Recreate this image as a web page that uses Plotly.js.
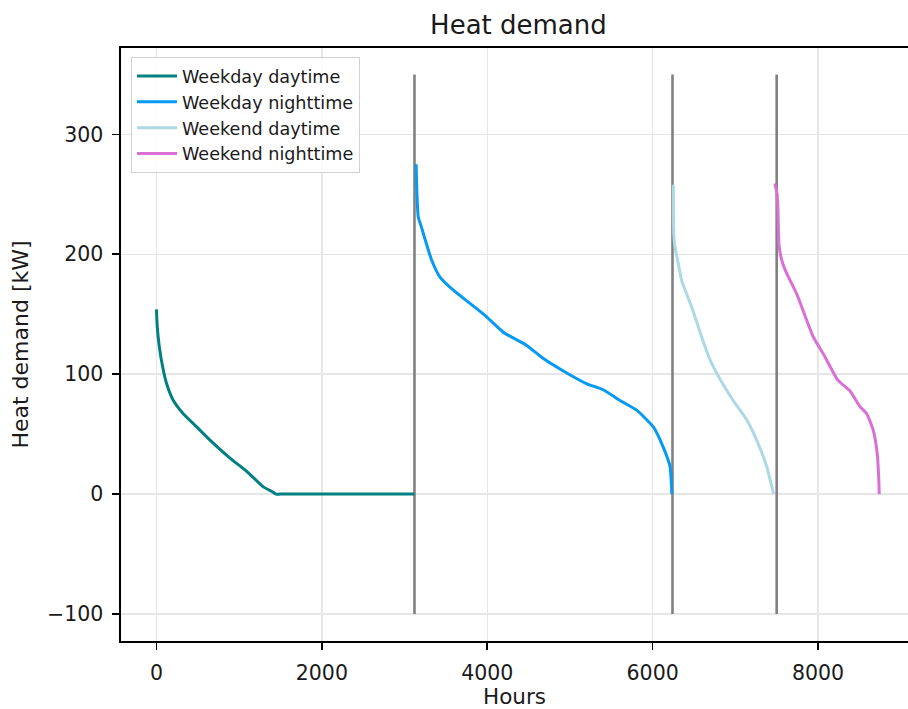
<!DOCTYPE html>
<html>
<head>
<meta charset="utf-8">
<script src="https://cdn.plot.ly/plotly-3.0.1.min.js"></script>
<style>
  html, body { margin: 0; padding: 0; background: #ffffff; overflow: hidden; }
  #chart { width: 908px; height: 709px; }
</style>
</head>
<body>
<div id="chart"></div>
<script>
// ---- data ----
const seriesNames = ["Weekday daytime", "Weekday nighttime", "Weekend daytime", "Weekend nighttime"];

const wdDayHours  = [0, 2, 10, 34, 75, 123, 204, 324, 486, 647, 889, 1091, 1292, 1400, 1445, 1500, 3120];
const wdDayValues = [154, 150, 139, 123, 106, 92, 78, 67, 56, 45, 30, 19, 6, 2, 0, 0, 0];

const wdNightHours  = [3140, 3150, 3166, 3207, 3250, 3328, 3428, 3590, 3791, 3973, 4194, 4477, 4678, 4961, 5203, 5403, 5605, 5807, 6008, 6129, 6210, 6232];
const wdNightValues = [275, 250, 231, 222, 212, 195, 181, 170, 159, 149, 135, 124, 113, 101, 92, 87, 78, 70, 56, 39, 23, 0];

const weDayHours  = [6250, 6255, 6270, 6311, 6351, 6472, 6593, 6694, 6814, 6975, 7137, 7258, 7379, 7462];
const weDayValues = [258, 217, 206, 192, 178, 156, 131, 112, 96, 78, 62, 45, 23, 0];

const weNightHours  = [7478, 7505, 7515, 7528, 7561, 7621, 7742, 7943, 8064, 8240, 8387, 8507, 8589, 8669, 8717, 8735, 8740];
const weNightValues = [259, 250, 238, 208, 195, 184, 167, 131, 117, 95, 86, 73, 67, 53, 33, 12, 0];

const boundaryHours = [3120, 6240, 7500];
const boundaryLow = -100;
const boundaryHigh = 350;

const xTickVals = [0, 2000, 4000, 6000, 8000];
const yTickVals = [-100, 0, 100, 200, 300];

// ---- build traces ----
const vx = [], vy = [];
boundaryHours.forEach(h => { vx.push(h, h, null); vy.push(boundaryLow, boundaryHigh, null); });

const lineW = 3;
const sm = 0.5;
const traces = [
  { x: vx, y: vy, mode: "lines", line: { color: "#808080", width: 2.6 }, showlegend: false, hoverinfo: "skip" },
  { x: wdDayHours, y: wdDayValues, name: seriesNames[0], mode: "lines", line: { color: "#008080", width: lineW, shape: "spline", smoothing: sm } },
  { x: wdNightHours, y: wdNightValues, name: seriesNames[1], mode: "lines", line: { color: "#069AF3", width: lineW, shape: "spline", smoothing: sm } },
  { x: weDayHours, y: weDayValues, name: seriesNames[2], mode: "lines", line: { color: "#ADD8E6", width: lineW, shape: "spline", smoothing: sm } },
  { x: weNightHours, y: weNightValues, name: seriesNames[3], mode: "lines", line: { color: "#DA70D6", width: lineW, shape: "spline", smoothing: sm } }
];

const font = "DejaVu Sans, Liberation Sans, sans-serif";
const txt = "#1a1a1a";
const layout = {
  width: 908, height: 709,
  margin: { l: 121, r: 0, t: 48, b: 68, pad: 0 },
  paper_bgcolor: "#ffffff", plot_bgcolor: "#ffffff",
  font: { family: font, color: txt, size: 20.5 },
  title: {
    text: "Heat demand",
    font: { family: font, size: 26, color: txt },
    xref: "paper", x: 0.505, xanchor: "center",
    yref: "container", y: 1 - 25 / 709, yanchor: "middle"
  },
  xaxis: {
    range: [-429, 9088],
    tickvals: xTickVals,
    ticks: "outside", ticklen: 7, tickwidth: 1.6, tickcolor: "#000",
    ticklabelstandoff: 6,
    showline: true, linecolor: "#000", linewidth: 1.6, mirror: true,
    showgrid: true, gridcolor: "#e6e6e6", gridwidth: 1.5,
    zeroline: false,
    tickfont: { family: font, size: 20.5, color: txt },
    title: { text: "Hours", font: { family: font, size: 21.5, color: txt }, standoff: 7 }
  },
  yaxis: {
    range: [-122.5, 372],
    tickvals: yTickVals,
    ticks: "outside", ticklen: 7, tickwidth: 1.6, tickcolor: "#000",
    ticklabelstandoff: 5,
    showline: true, linecolor: "#000", linewidth: 1.6, mirror: false,
    showgrid: true, gridcolor: "#e6e6e6", gridwidth: 1.5,
    zeroline: false,
    tickfont: { family: font, size: 20.5, color: txt },
    title: { text: "Heat demand [kW]", font: { family: font, size: 22, color: txt }, standoff: 12 }
  },
  legend: {
    x: (131 - 121) / 787, y: (641 - 57) / 593, xanchor: "left", yanchor: "top",
    bgcolor: "rgba(255,255,255,0.85)", bordercolor: "#d0d0d0", borderwidth: 1,
    font: { family: font, size: 17.6, color: txt },
    itemwidth: 40, tracegroupgap: 0
  },
  showlegend: true
};

Plotly.newPlot("chart", traces, layout, { displayModeBar: false, staticPlot: true });
</script>
</body>
</html>
